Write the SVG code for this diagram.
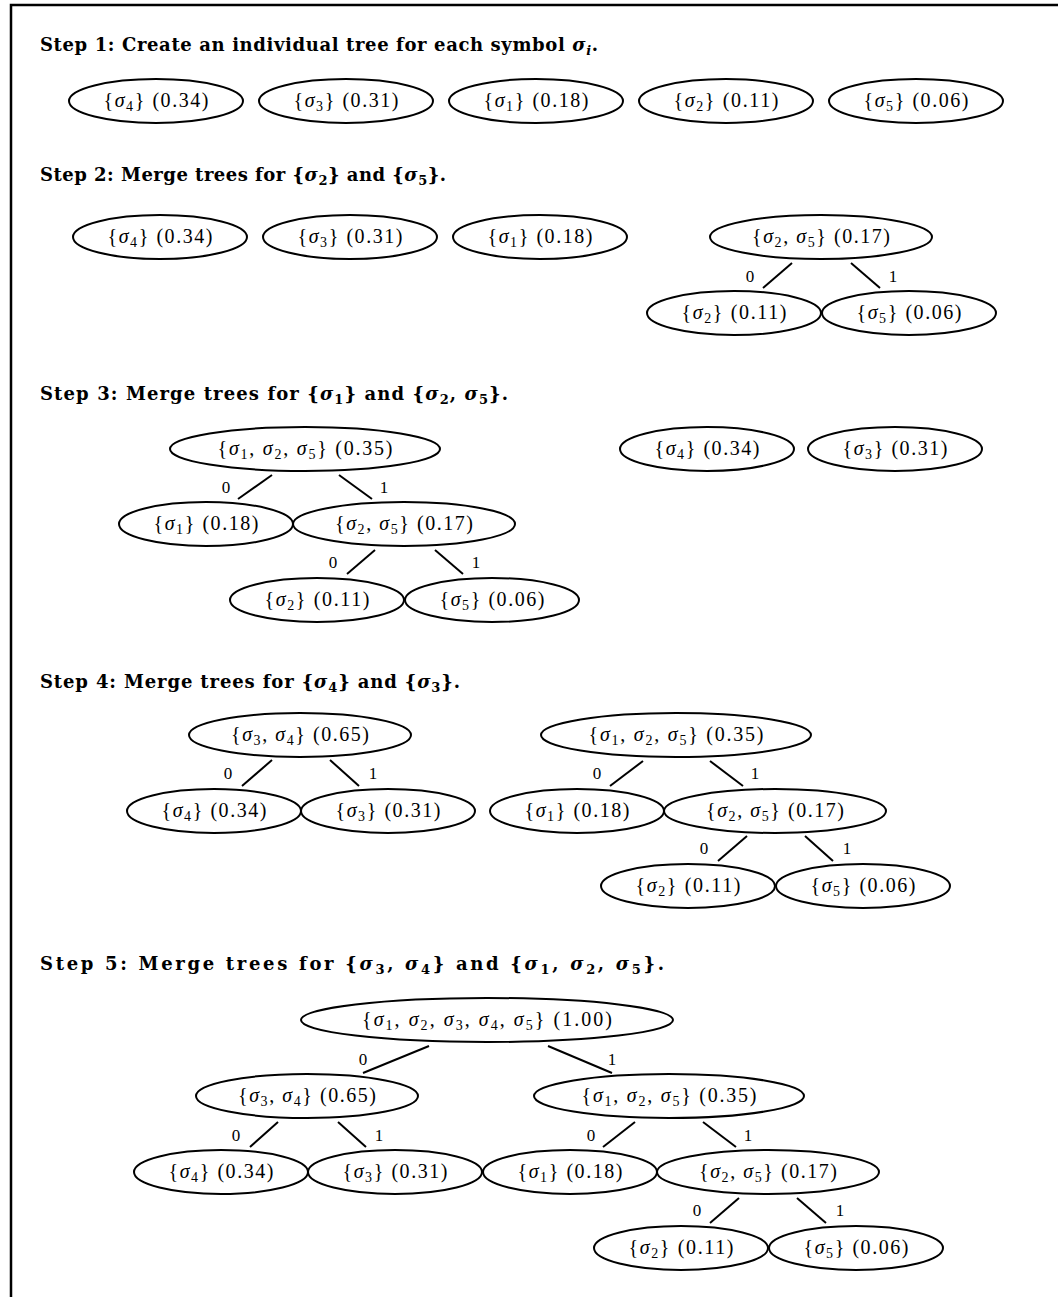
<svg xmlns="http://www.w3.org/2000/svg" width="1058" height="1297" viewBox="0 0 1058 1297">
<style>
.n{font-family:"Liberation Serif",serif;font-size:20px;text-anchor:middle;fill:#000}
.h{font-family:"DejaVu Serif","Liberation Serif",serif;font-size:18px;font-weight:bold;fill:#000}
.l{font-family:"Liberation Serif",serif;font-size:17px;text-anchor:middle;fill:#000}
.m{font-style:italic}
.s{font-size:14px}
.hs{font-size:13px}
ellipse{fill:#fff;stroke:#000;stroke-width:2}
.c line{stroke:#000;stroke-width:2}
</style>
<rect width="1058" height="1297" fill="#fff"/>
<path d="M11,1297V5H1058" fill="none" stroke="#000" stroke-width="2.5"/>

<g id="headings">
<text class="h" x="40" y="51" textLength="558">Step 1: Create an individual tree for each symbol <tspan class="m">σ</tspan><tspan class="m hs" dy="4">i</tspan><tspan dy="-4">.</tspan></text>
<text class="h" x="40" y="181" textLength="406">Step 2: Merge trees for {<tspan class="m">σ</tspan><tspan class="hs" dy="4">2</tspan><tspan dy="-4">} and {</tspan><tspan class="m">σ</tspan><tspan class="hs" dy="4">5</tspan><tspan dy="-4">}.</tspan></text>
<text class="h" x="40" y="400" textLength="468">Step 3: Merge trees for {<tspan class="m">σ</tspan><tspan class="hs" dy="4">1</tspan><tspan dy="-4">} and {</tspan><tspan class="m">σ</tspan><tspan class="hs" dy="4">2</tspan><tspan dy="-4">, </tspan><tspan class="m">σ</tspan><tspan class="hs" dy="4">5</tspan><tspan dy="-4">}.</tspan></text>
<text class="h" x="40" y="688" textLength="420">Step 4: Merge trees for {<tspan class="m">σ</tspan><tspan class="hs" dy="4">4</tspan><tspan dy="-4">} and {</tspan><tspan class="m">σ</tspan><tspan class="hs" dy="4">3</tspan><tspan dy="-4">}.</tspan></text>
<text class="h" x="40" y="970" textLength="624">Step 5: Merge trees for {<tspan class="m">σ</tspan><tspan class="hs" dy="4">3</tspan><tspan dy="-4">, </tspan><tspan class="m">σ</tspan><tspan class="hs" dy="4">4</tspan><tspan dy="-4">} and {</tspan><tspan class="m">σ</tspan><tspan class="hs" dy="4">1</tspan><tspan dy="-4">, </tspan><tspan class="m">σ</tspan><tspan class="hs" dy="4">2</tspan><tspan dy="-4">, </tspan><tspan class="m">σ</tspan><tspan class="hs" dy="4">5</tspan><tspan dy="-4">}.</tspan></text>
</g>

<g id="connectors" class="c">
<line x1="792" y1="263" x2="763" y2="288"/><line x1="851" y1="263" x2="880" y2="288"/>
<line x1="272" y1="475" x2="238" y2="499"/><line x1="339" y1="475" x2="372" y2="499"/>
<line x1="375" y1="550" x2="347" y2="574"/><line x1="435" y1="550" x2="463" y2="574"/>
<line x1="272" y1="760" x2="242" y2="786"/><line x1="330" y1="760" x2="359" y2="786"/>
<line x1="643" y1="761" x2="610" y2="786"/><line x1="710" y1="761" x2="743" y2="786"/>
<line x1="747" y1="836" x2="718" y2="861"/><line x1="805" y1="836" x2="833" y2="861"/>
<line x1="429" y1="1046" x2="363" y2="1073"/><line x1="548" y1="1046" x2="612" y2="1073"/>
<line x1="278" y1="1122" x2="250" y2="1147"/><line x1="338" y1="1122" x2="366" y2="1147"/>
<line x1="635" y1="1122" x2="603" y2="1147"/><line x1="703" y1="1122" x2="736" y2="1147"/>
<line x1="739" y1="1198" x2="710" y2="1223"/><line x1="797" y1="1198" x2="826" y2="1223"/>
<g>
<text class="l" x="750" y="282">0</text><text class="l" x="893" y="282">1</text>
<text class="l" x="226" y="493">0</text><text class="l" x="384" y="493">1</text>
<text class="l" x="333" y="568">0</text><text class="l" x="476" y="568">1</text>
<text class="l" x="228" y="779">0</text><text class="l" x="373" y="779">1</text>
<text class="l" x="597" y="779">0</text><text class="l" x="755" y="779">1</text>
<text class="l" x="704" y="854">0</text><text class="l" x="847" y="854">1</text>
<text class="l" x="363" y="1065">0</text><text class="l" x="612" y="1065">1</text>
<text class="l" x="236" y="1141">0</text><text class="l" x="379" y="1141">1</text>
<text class="l" x="591" y="1141">0</text><text class="l" x="748" y="1141">1</text>
<text class="l" x="697" y="1216">0</text><text class="l" x="840" y="1216">1</text>
</g>
</g>

<!-- Step 1 -->
<g id="s1n1"><ellipse cx="156" cy="101" rx="87" ry="22"/><text class="n" x="156" y="107" textLength="105">{<tspan class="m">σ</tspan><tspan class="s" dy="4">4</tspan><tspan dy="-4">} (0.34)</tspan></text></g>
<g id="s1n2"><ellipse cx="346" cy="101" rx="87" ry="22"/><text class="n" x="346" y="107" textLength="105">{<tspan class="m">σ</tspan><tspan class="s" dy="4">3</tspan><tspan dy="-4">} (0.31)</tspan></text></g>
<g id="s1n3"><ellipse cx="536" cy="101" rx="87" ry="22"/><text class="n" x="536" y="107" textLength="105">{<tspan class="m">σ</tspan><tspan class="s" dy="4">1</tspan><tspan dy="-4">} (0.18)</tspan></text></g>
<g id="s1n4"><ellipse cx="726" cy="101" rx="87" ry="22"/><text class="n" x="726" y="107" textLength="105">{<tspan class="m">σ</tspan><tspan class="s" dy="4">2</tspan><tspan dy="-4">} (0.11)</tspan></text></g>
<g id="s1n5"><ellipse cx="916" cy="101" rx="87" ry="22"/><text class="n" x="916" y="107" textLength="105">{<tspan class="m">σ</tspan><tspan class="s" dy="4">5</tspan><tspan dy="-4">} (0.06)</tspan></text></g>

<!-- Step 2 -->
<g id="s2n1"><ellipse cx="160" cy="237" rx="87" ry="22"/><text class="n" x="160" y="243" textLength="105">{<tspan class="m">σ</tspan><tspan class="s" dy="4">4</tspan><tspan dy="-4">} (0.34)</tspan></text></g>
<g id="s2n2"><ellipse cx="350" cy="237" rx="87" ry="22"/><text class="n" x="350" y="243" textLength="105">{<tspan class="m">σ</tspan><tspan class="s" dy="4">3</tspan><tspan dy="-4">} (0.31)</tspan></text></g>
<g id="s2n3"><ellipse cx="540" cy="237" rx="87" ry="22"/><text class="n" x="540" y="243" textLength="105">{<tspan class="m">σ</tspan><tspan class="s" dy="4">1</tspan><tspan dy="-4">} (0.18)</tspan></text></g>
<g id="s2r"><ellipse cx="821" cy="237" rx="111" ry="22"/><text class="n" x="821" y="243" textLength="138">{<tspan class="m">σ</tspan><tspan class="s" dy="4">2</tspan><tspan dy="-4">, </tspan><tspan class="m">σ</tspan><tspan class="s" dy="4">5</tspan><tspan dy="-4">} (0.17)</tspan></text></g>
<g id="s2a"><ellipse cx="734" cy="313" rx="87" ry="22"/><text class="n" x="734" y="319" textLength="105">{<tspan class="m">σ</tspan><tspan class="s" dy="4">2</tspan><tspan dy="-4">} (0.11)</tspan></text></g>
<g id="s2b"><ellipse cx="909" cy="313" rx="87" ry="22"/><text class="n" x="909" y="319" textLength="105">{<tspan class="m">σ</tspan><tspan class="s" dy="4">5</tspan><tspan dy="-4">} (0.06)</tspan></text></g>

<!-- Step 3 -->
<g id="s3r"><ellipse cx="305" cy="449" rx="135" ry="22"/><text class="n" x="305" y="455" textLength="175">{<tspan class="m">σ</tspan><tspan class="s" dy="4">1</tspan><tspan dy="-4">, </tspan><tspan class="m">σ</tspan><tspan class="s" dy="4">2</tspan><tspan dy="-4">, </tspan><tspan class="m">σ</tspan><tspan class="s" dy="4">5</tspan><tspan dy="-4">} (0.35)</tspan></text></g>
<g id="s3a"><ellipse cx="206" cy="524" rx="87" ry="22"/><text class="n" x="206" y="530" textLength="105">{<tspan class="m">σ</tspan><tspan class="s" dy="4">1</tspan><tspan dy="-4">} (0.18)</tspan></text></g>
<g id="s3b"><ellipse cx="404" cy="524" rx="111" ry="22"/><text class="n" x="404" y="530" textLength="138">{<tspan class="m">σ</tspan><tspan class="s" dy="4">2</tspan><tspan dy="-4">, </tspan><tspan class="m">σ</tspan><tspan class="s" dy="4">5</tspan><tspan dy="-4">} (0.17)</tspan></text></g>
<g id="s3c"><ellipse cx="317" cy="600" rx="87" ry="22"/><text class="n" x="317" y="606" textLength="105">{<tspan class="m">σ</tspan><tspan class="s" dy="4">2</tspan><tspan dy="-4">} (0.11)</tspan></text></g>
<g id="s3d"><ellipse cx="492" cy="600" rx="87" ry="22"/><text class="n" x="492" y="606" textLength="105">{<tspan class="m">σ</tspan><tspan class="s" dy="4">5</tspan><tspan dy="-4">} (0.06)</tspan></text></g>
<g id="s3x"><ellipse cx="707" cy="449" rx="87" ry="22"/><text class="n" x="707" y="455" textLength="105">{<tspan class="m">σ</tspan><tspan class="s" dy="4">4</tspan><tspan dy="-4">} (0.34)</tspan></text></g>
<g id="s3y"><ellipse cx="895" cy="449" rx="87" ry="22"/><text class="n" x="895" y="455" textLength="105">{<tspan class="m">σ</tspan><tspan class="s" dy="4">3</tspan><tspan dy="-4">} (0.31)</tspan></text></g>

<!-- Step 4 -->
<g id="s4l"><ellipse cx="300" cy="735" rx="111" ry="22"/><text class="n" x="300" y="741" textLength="138">{<tspan class="m">σ</tspan><tspan class="s" dy="4">3</tspan><tspan dy="-4">, </tspan><tspan class="m">σ</tspan><tspan class="s" dy="4">4</tspan><tspan dy="-4">} (0.65)</tspan></text></g>
<g id="s4la"><ellipse cx="214" cy="811" rx="87" ry="22"/><text class="n" x="214" y="817" textLength="105">{<tspan class="m">σ</tspan><tspan class="s" dy="4">4</tspan><tspan dy="-4">} (0.34)</tspan></text></g>
<g id="s4lb"><ellipse cx="388" cy="811" rx="87" ry="22"/><text class="n" x="388" y="817" textLength="105">{<tspan class="m">σ</tspan><tspan class="s" dy="4">3</tspan><tspan dy="-4">} (0.31)</tspan></text></g>
<g id="s4r"><ellipse cx="676" cy="735" rx="135" ry="22"/><text class="n" x="676" y="741" textLength="175">{<tspan class="m">σ</tspan><tspan class="s" dy="4">1</tspan><tspan dy="-4">, </tspan><tspan class="m">σ</tspan><tspan class="s" dy="4">2</tspan><tspan dy="-4">, </tspan><tspan class="m">σ</tspan><tspan class="s" dy="4">5</tspan><tspan dy="-4">} (0.35)</tspan></text></g>
<g id="s4ra"><ellipse cx="577" cy="811" rx="87" ry="22"/><text class="n" x="577" y="817" textLength="105">{<tspan class="m">σ</tspan><tspan class="s" dy="4">1</tspan><tspan dy="-4">} (0.18)</tspan></text></g>
<g id="s4rb"><ellipse cx="775" cy="811" rx="111" ry="22"/><text class="n" x="775" y="817" textLength="138">{<tspan class="m">σ</tspan><tspan class="s" dy="4">2</tspan><tspan dy="-4">, </tspan><tspan class="m">σ</tspan><tspan class="s" dy="4">5</tspan><tspan dy="-4">} (0.17)</tspan></text></g>
<g id="s4rc"><ellipse cx="688" cy="886" rx="87" ry="22"/><text class="n" x="688" y="892" textLength="105">{<tspan class="m">σ</tspan><tspan class="s" dy="4">2</tspan><tspan dy="-4">} (0.11)</tspan></text></g>
<g id="s4rd"><ellipse cx="863" cy="886" rx="87" ry="22"/><text class="n" x="863" y="892" textLength="105">{<tspan class="m">σ</tspan><tspan class="s" dy="4">5</tspan><tspan dy="-4">} (0.06)</tspan></text></g>

<!-- Step 5 -->
<g id="s5root"><ellipse cx="487" cy="1020" rx="186" ry="22"/><text class="n" x="487" y="1026" textLength="250">{<tspan class="m">σ</tspan><tspan class="s" dy="4">1</tspan><tspan dy="-4">, </tspan><tspan class="m">σ</tspan><tspan class="s" dy="4">2</tspan><tspan dy="-4">, </tspan><tspan class="m">σ</tspan><tspan class="s" dy="4">3</tspan><tspan dy="-4">, </tspan><tspan class="m">σ</tspan><tspan class="s" dy="4">4</tspan><tspan dy="-4">, </tspan><tspan class="m">σ</tspan><tspan class="s" dy="4">5</tspan><tspan dy="-4">} (1.00)</tspan></text></g>
<g id="s5l"><ellipse cx="307" cy="1096" rx="111" ry="22"/><text class="n" x="307" y="1102" textLength="138">{<tspan class="m">σ</tspan><tspan class="s" dy="4">3</tspan><tspan dy="-4">, </tspan><tspan class="m">σ</tspan><tspan class="s" dy="4">4</tspan><tspan dy="-4">} (0.65)</tspan></text></g>
<g id="s5r"><ellipse cx="669" cy="1096" rx="135" ry="22"/><text class="n" x="669" y="1102" textLength="175">{<tspan class="m">σ</tspan><tspan class="s" dy="4">1</tspan><tspan dy="-4">, </tspan><tspan class="m">σ</tspan><tspan class="s" dy="4">2</tspan><tspan dy="-4">, </tspan><tspan class="m">σ</tspan><tspan class="s" dy="4">5</tspan><tspan dy="-4">} (0.35)</tspan></text></g>
<g id="s5ll"><ellipse cx="221" cy="1172" rx="87" ry="22"/><text class="n" x="221" y="1178" textLength="105">{<tspan class="m">σ</tspan><tspan class="s" dy="4">4</tspan><tspan dy="-4">} (0.34)</tspan></text></g>
<g id="s5lr"><ellipse cx="395" cy="1172" rx="87" ry="22"/><text class="n" x="395" y="1178" textLength="105">{<tspan class="m">σ</tspan><tspan class="s" dy="4">3</tspan><tspan dy="-4">} (0.31)</tspan></text></g>
<g id="s5rl"><ellipse cx="570" cy="1172" rx="87" ry="22"/><text class="n" x="570" y="1178" textLength="105">{<tspan class="m">σ</tspan><tspan class="s" dy="4">1</tspan><tspan dy="-4">} (0.18)</tspan></text></g>
<g id="s5rr"><ellipse cx="768" cy="1172" rx="111" ry="22"/><text class="n" x="768" y="1178" textLength="138">{<tspan class="m">σ</tspan><tspan class="s" dy="4">2</tspan><tspan dy="-4">, </tspan><tspan class="m">σ</tspan><tspan class="s" dy="4">5</tspan><tspan dy="-4">} (0.17)</tspan></text></g>
<g id="s5rrl"><ellipse cx="681" cy="1248" rx="87" ry="22"/><text class="n" x="681" y="1254" textLength="105">{<tspan class="m">σ</tspan><tspan class="s" dy="4">2</tspan><tspan dy="-4">} (0.11)</tspan></text></g>
<g id="s5rrr"><ellipse cx="856" cy="1248" rx="87" ry="22"/><text class="n" x="856" y="1254" textLength="105">{<tspan class="m">σ</tspan><tspan class="s" dy="4">5</tspan><tspan dy="-4">} (0.06)</tspan></text></g>
</svg>
